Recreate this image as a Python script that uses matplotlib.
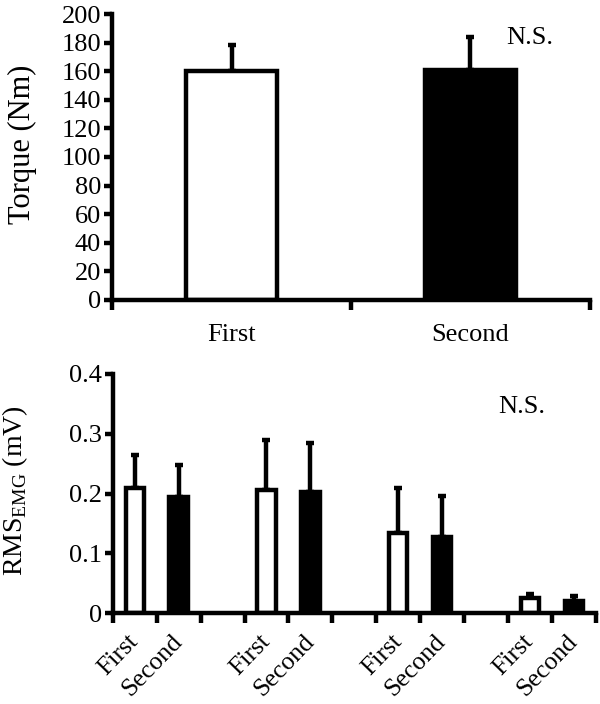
import matplotlib
matplotlib.use("Agg")
import matplotlib.pyplot as plt
import numpy as np

plt.rcParams['font.family'] = ['Liberation Serif', 'DejaVu Serif']
plt.rcParams['mathtext.fontset'] = 'custom'
plt.rcParams['mathtext.rm'] = 'Liberation Serif'

# Top panel data
torque_cats = ["First", "Second"]
torque_mean = [160, 161]
torque_sd = [18.5, 23]

# Bottom panel data (four muscle groups, First/Second each)
emg_labels = ["First", "Second", "", "First", "Second", "", "First", "Second", "", "First", "Second"]
emg_first = [0.209, 0.206, 0.134, 0.026]
emg_second = [0.194, 0.202, 0.128, 0.021]
emg_first_sd = [0.056, 0.083, 0.076, 0.006]
emg_second_sd = [0.053, 0.083, 0.068, 0.008]

LW = 3.2
TICK_FS = 19
fig = plt.figure(figsize=(6.0, 7.04), dpi=100)

# ---- Top panel ----
ax1 = fig.add_axes([0.187, 0.574, 0.796, 0.406])
xt = np.arange(len(torque_cats))
colors = ['white', 'black']
for i in range(len(torque_cats)):
    ax1.bar(xt[i], torque_mean[i], width=0.38, color=colors[i], edgecolor='black',
            linewidth=LW, zorder=2)
    ax1.errorbar(xt[i], torque_mean[i], yerr=[[0], [torque_sd[i]]], fmt='none',
                 ecolor='black', elinewidth=LW, capsize=3, capthick=LW, zorder=1)
ax1.set_xlim(-0.5, 1.5)
ax1.set_ylim(0, 200)
ax1.set_yticks(np.arange(0, 201, 20))
ax1.set_xticks(xt)
ax1.set_xticklabels(torque_cats)
ax1.set_xticks([-0.5, 0.5, 1.5], minor=True)
ax1.tick_params(axis='x', which='major', length=0, labelsize=TICK_FS, pad=17)
ax1.tick_params(axis='x', which='minor', length=7, width=LW, direction='out')
ax1.tick_params(axis='y', length=6, width=LW, labelsize=TICK_FS, pad=2)
for s in ['top', 'right']:
    ax1.spines[s].set_visible(False)
for s in ['left', 'bottom']:
    ax1.spines[s].set_linewidth(LW)
ax1.set_ylabel("Torque (Nm)", fontsize=22)
ax1.yaxis.set_label_coords(-0.158, 0.545)
ax1.text(0.875, 0.915, "N.S.", transform=ax1.transAxes, fontsize=TICK_FS,
         ha='center', va='center')

# ---- Bottom panel ----
ax2 = fig.add_axes([0.188, 0.129, 0.805, 0.340])
pos_first = [0, 3, 6, 9]
pos_second = [1, 4, 7, 10]
ax2.bar(pos_first, emg_first, width=0.42, color='white', edgecolor='black',
        linewidth=LW, zorder=2)
ax2.bar(pos_second, emg_second, width=0.42, color='black', edgecolor='black',
        linewidth=LW, zorder=2)
ax2.errorbar(pos_first, emg_first, yerr=[np.zeros(4), emg_first_sd], fmt='none',
             ecolor='black', elinewidth=LW, capsize=3, capthick=LW, zorder=1)
ax2.errorbar(pos_second, emg_second, yerr=[np.zeros(4), emg_second_sd], fmt='none',
             ecolor='black', elinewidth=LW, capsize=3, capthick=LW, zorder=1)
ax2.set_xlim(-0.5, 10.5)
ax2.set_ylim(0, 0.4)
ax2.set_yticks([0, 0.1, 0.2, 0.3, 0.4])
ax2.set_yticklabels(["0", "0.1", "0.2", "0.3", "0.4"])
ax2.set_xticks(np.arange(len(emg_labels)))
ax2.set_xticklabels(emg_labels, rotation=46, ha='right', va='center',
                    rotation_mode='anchor')
ax2.set_xticks(np.arange(-0.5, 10.6, 1), minor=True)
ax2.tick_params(axis='x', which='major', length=0, labelsize=18.5, pad=18)
ax2.tick_params(axis='x', which='minor', length=7, width=LW, direction='out')
ax2.tick_params(axis='y', length=6, width=LW, labelsize=TICK_FS, pad=2)
for s in ['top', 'right']:
    ax2.spines[s].set_visible(False)
for s in ['left', 'bottom']:
    ax2.spines[s].set_linewidth(LW)
ax2.set_ylabel(r"RMS$_{\mathregular{EMG}}$ (mV)", fontsize=20)
ax2.yaxis.set_label_coords(-0.172, 0.51)
ax2.text(0.847, 0.862, "N.S.", transform=ax2.transAxes, fontsize=TICK_FS,
         ha='center', va='center')

fig.savefig("out.png", dpi=100)
